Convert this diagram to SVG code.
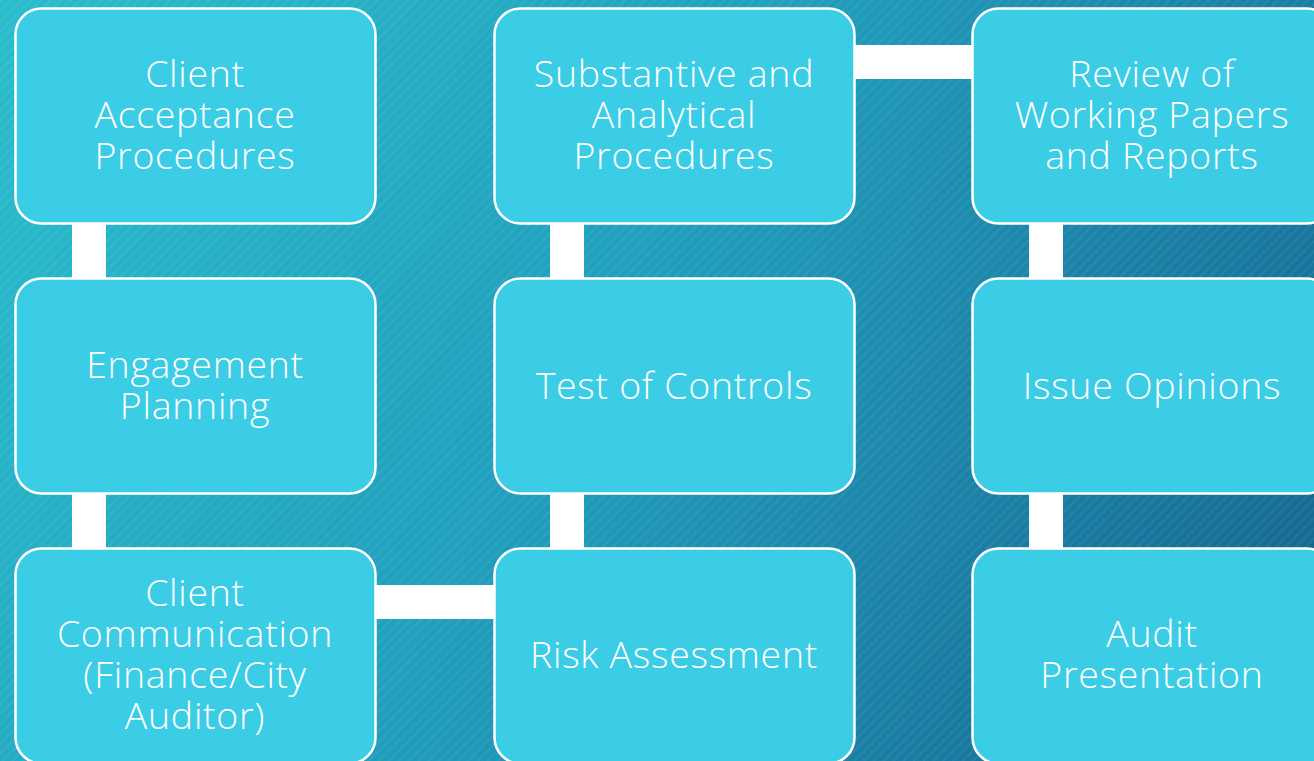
<svg xmlns="http://www.w3.org/2000/svg" width="1314" height="761" viewBox="0 0 1314 761">
<style>
.node rect{fill:#3ccde6;stroke:#ffffff;stroke-width:2.5}
.node text{font-family:"Open Sans","Liberation Sans",Arial,sans-serif;font-weight:300;font-size:37.5px;letter-spacing:0.7px;fill:#ffffff;text-anchor:middle}
.bar{fill:#ffffff}
</style>
<defs>
<linearGradient id="bg" x1="0" y1="0" x2="1314" y2="761" gradientUnits="userSpaceOnUse">
<stop offset="0" stop-color="#2abdcc"/>
<stop offset="0.45" stop-color="#219fbd"/>
<stop offset="1" stop-color="#15628e"/>
</linearGradient>
<pattern id="hatch" width="7" height="7" patternUnits="userSpaceOnUse" patternTransform="rotate(45)">
<rect x="0" y="0" width="2" height="7" fill="#ffffff" fill-opacity="0.06"/>
</pattern>
</defs>
<rect x="0" y="0" width="1314" height="761" fill="url(#bg)"/>
<rect x="0" y="0" width="1314" height="761" fill="url(#hatch)"/>
<g id="connectors">
<rect class="bar" x="72" y="220" width="34" height="62"/>
<rect class="bar" x="72" y="490" width="34" height="62"/>
<rect class="bar" x="372" y="585" width="126" height="34"/>
<rect class="bar" x="550" y="490" width="34" height="62"/>
<rect class="bar" x="550" y="220" width="34" height="62"/>
<rect class="bar" x="851" y="45" width="125" height="34"/>
<rect class="bar" x="1029" y="220" width="34" height="62"/>
<rect class="bar" x="1029" y="490" width="34" height="62"/>
</g>
<g id="n1" class="node"><rect x="15.5" y="8.5" width="360" height="215" rx="26"/><text x="195" y="87">Client</text><text x="195" y="128">Acceptance</text><text x="195" y="169">Procedures</text></g>
<g id="n2" class="node"><rect x="15.5" y="278.5" width="360" height="215" rx="26"/><text x="195" y="378">Engagement</text><text x="195" y="419">Planning</text></g>
<g id="n3" class="node"><rect x="15.5" y="548.5" width="360" height="215" rx="26"/><text x="195" y="606">Client</text><text x="195" y="647">Communication</text><text x="195" y="688">(Finance/City</text><text x="195" y="729">Auditor)</text></g>
<g id="n4" class="node"><rect x="494.5" y="548.5" width="360" height="215" rx="26"/><text x="674" y="668">Risk Assessment</text></g>
<g id="n5" class="node"><rect x="494.5" y="278.5" width="360" height="215" rx="26"/><text x="674" y="399">Test of Controls</text></g>
<g id="n6" class="node"><rect x="494.5" y="8.5" width="360" height="215" rx="26"/><text x="674" y="87">Substantive and</text><text x="674" y="128">Analytical</text><text x="674" y="169">Procedures</text></g>
<g id="n7" class="node"><rect x="972.5" y="8.5" width="360" height="215" rx="26"/><text x="1152" y="87">Review of</text><text x="1152" y="128">Working Papers</text><text x="1152" y="169">and Reports</text></g>
<g id="n8" class="node"><rect x="972.5" y="278.5" width="360" height="215" rx="26"/><text x="1152" y="399">Issue Opinions</text></g>
<g id="n9" class="node"><rect x="972.5" y="548.5" width="360" height="215" rx="26"/><text x="1152" y="647">Audit</text><text x="1152" y="688">Presentation</text></g>
</svg>
